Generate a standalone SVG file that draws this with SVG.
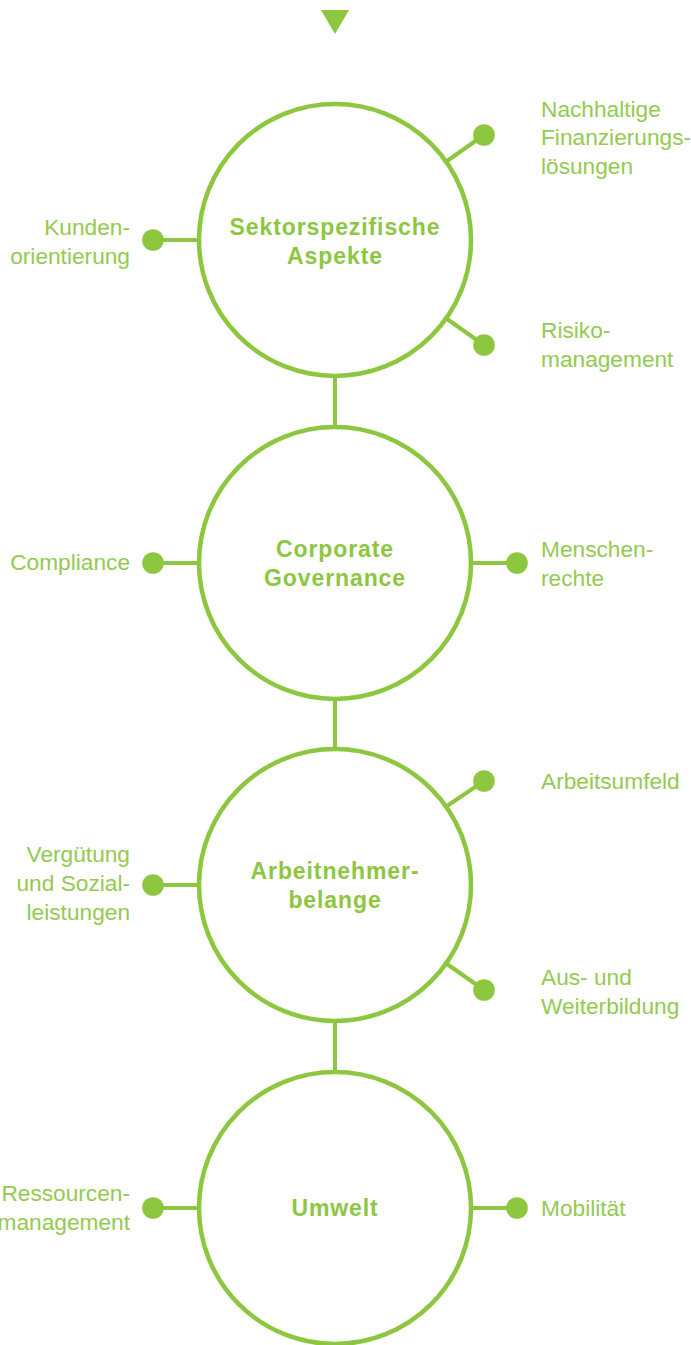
<svg xmlns="http://www.w3.org/2000/svg" width="691" height="1345" viewBox="0 0 691 1345">
<style>
.ring{fill:none;stroke:#8dc63f;stroke-width:4.5}
.ln{stroke:#8dc63f;stroke-width:4;fill:none}
.dot{fill:#8dc63f}
.t{font-family:"Liberation Sans",Arial,sans-serif;font-size:22.7px;fill:#94ca4f}
.r{text-anchor:end}
.b{font-family:"Liberation Sans",Arial,sans-serif;font-size:23px;font-weight:bold;fill:#8dc63f;text-anchor:middle;letter-spacing:0.9px}
</style>
<rect width="691" height="1345" fill="#fff"/>
<polygon points="321,10 349,10 335,34" fill="#8dc63f"/>
<g id="connectors">
<line class="ln" x1="335" y1="376" x2="335" y2="427"/>
<line class="ln" x1="335" y1="699" x2="335" y2="749"/>
<line class="ln" x1="335" y1="1021" x2="335" y2="1072"/>
<line class="ln" x1="153" y1="240" x2="199" y2="240"/>
<line class="ln" x1="447" y1="161" x2="484" y2="135"/>
<line class="ln" x1="447" y1="319" x2="484" y2="345"/>
<line class="ln" x1="153" y1="563" x2="199" y2="563"/>
<line class="ln" x1="471" y1="563" x2="517" y2="563"/>
<line class="ln" x1="153" y1="885" x2="199" y2="885"/>
<line class="ln" x1="447" y1="806" x2="484" y2="781"/>
<line class="ln" x1="447" y1="964" x2="484" y2="990"/>
<line class="ln" x1="153" y1="1208" x2="199" y2="1208"/>
<line class="ln" x1="471" y1="1208" x2="517" y2="1208"/>
<circle class="dot" cx="153" cy="240" r="10.8"/>
<circle class="dot" cx="484" cy="135" r="10.8"/>
<circle class="dot" cx="484" cy="345" r="10.8"/>
<circle class="dot" cx="153" cy="563" r="10.8"/>
<circle class="dot" cx="517" cy="563" r="10.8"/>
<circle class="dot" cx="153" cy="885" r="10.8"/>
<circle class="dot" cx="484" cy="781" r="10.8"/>
<circle class="dot" cx="484" cy="990" r="10.8"/>
<circle class="dot" cx="153" cy="1208" r="10.8"/>
<circle class="dot" cx="517" cy="1208" r="10.8"/>
</g>
<g id="sektor">
<circle class="ring" cx="335" cy="240" r="136"/>
<text class="b" x="335" y="235">Sektorspezifische</text>
<text class="b" x="335" y="264">Aspekte</text>
</g>
<g id="governance">
<circle class="ring" cx="335" cy="563" r="136"/>
<text class="b" x="335" y="557">Corporate</text>
<text class="b" x="335" y="586">Governance</text>
</g>
<g id="arbeitnehmer">
<circle class="ring" cx="335" cy="885" r="136"/>
<text class="b" x="335" y="879">Arbeitnehmer-</text>
<text class="b" x="335" y="908">belange</text>
</g>
<g id="umwelt">
<circle class="ring" cx="335" cy="1208" r="136"/>
<text class="b" x="335" y="1216">Umwelt</text>
</g>
<g id="kunden"><text class="t r" x="130" y="235">Kunden-</text><text class="t r" x="130" y="264">orientierung</text></g>
<g id="finanz"><text class="t" x="541" y="117">Nachhaltige</text><text class="t" x="541" y="145">Finanzierungs-</text><text class="t" x="541" y="174">lösungen</text></g>
<g id="risiko"><text class="t" x="541" y="338">Risiko-</text><text class="t" x="541" y="367">management</text></g>
<g id="compliance"><text class="t r" x="130" y="570">Compliance</text></g>
<g id="menschen"><text class="t" x="541" y="557">Menschen-</text><text class="t" x="541" y="586">rechte</text></g>
<g id="verguetung"><text class="t r" x="130" y="862">Vergütung</text><text class="t r" x="130" y="891">und Sozial-</text><text class="t r" x="130" y="920">leistungen</text></g>
<g id="arbeitsumfeld"><text class="t" x="541" y="789">Arbeitsumfeld</text></g>
<g id="weiterbildung"><text class="t" x="541" y="985">Aus- und</text><text class="t" x="541" y="1014">Weiterbildung</text></g>
<g id="ressourcen"><text class="t r" x="130" y="1201">Ressourcen-</text><text class="t r" x="130" y="1230">management</text></g>
<g id="mobilitaet"><text class="t" x="541" y="1216">Mobilität</text></g>
</svg>
